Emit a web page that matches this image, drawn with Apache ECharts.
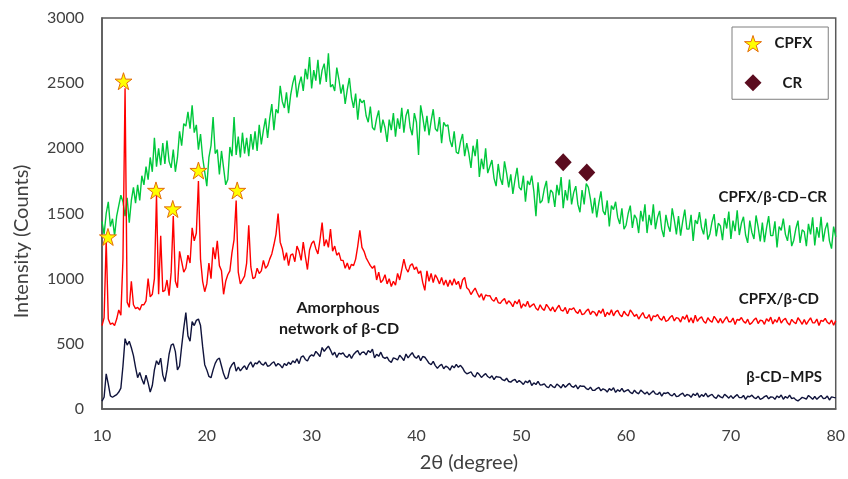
<!DOCTYPE html>
<html>
<head>
<meta charset="utf-8">
<script src="https://cdn.jsdelivr.net/npm/echarts@6/dist/echarts.min.js"></script>
<style>
  html, body { margin: 0; padding: 0; background: #fff; }
  #chart { width: 848px; height: 479px; }
</style>
</head>
<body>
<div id="chart"></div>
<script>
// XRD scan: 10–80° 2θ, 0.2° step (one row = one degree: .0 .2 .4 .6 .8)
const scanStart = 10;
const scanStep = 0.2;

// CPFX/β-CD–CR
const greenCounts = [
  1440, 1340, 1500, 1590, 1400,
  1460, 1330, 1480, 1560, 1640,
  1590, 1480, 1620, 1430, 1600,
  1700, 1580, 1720, 1600, 1790,
  1720, 1860, 1760, 1930, 1820,
  2080, 1860, 2000, 1870, 2040,
  1880, 2060, 1900, 1850, 1990,
  1820, 1930, 2130, 2020, 2190,
  2170, 2280, 2150, 2330, 2120,
  2180, 1990, 2110, 1930, 1820,
  1710, 1930, 2020, 2240, 1960,
  1990, 1800, 1980, 1850, 1720,
  1760, 2010, 1940, 2240, 1950,
  2090, 1930, 2120, 1960, 2080,
  1940, 2110, 1990, 2130, 1980,
  2180, 2030, 2140, 2230, 2080,
  2230, 2340, 2140, 2300, 2270,
  2480, 2360, 2310, 2430, 2270,
  2410, 2500, 2560, 2390, 2490,
  2550, 2440, 2610, 2530, 2700,
  2460, 2600, 2520, 2680, 2490,
  2600, 2650, 2510, 2730, 2470,
  2490, 2440, 2620, 2530, 2420,
  2490, 2340, 2450, 2540, 2390,
  2310, 2420, 2220, 2380, 2350,
  2370, 2250, 2200, 2320, 2160,
  2140, 2230, 2290, 2120, 2220,
  2160, 2050, 2220, 2140, 2270,
  2090, 2230, 2150, 2310, 2120,
  2250, 2300, 2160, 2100, 2270,
  2200, 1950, 2330, 2240, 2130,
  2250, 2100, 2210, 2300, 2150,
  2130, 2240, 2040, 2200, 2170,
  2180, 2060, 2010, 2130, 1970,
  1960, 2050, 2110, 1940, 2040,
  1960, 1850, 2020, 1940, 2070,
  1780, 1920, 1840, 2000, 1810,
  1860, 1910, 1770, 1710, 1880,
  1770, 1720, 1900, 1810, 1700,
  1800, 1650, 1760, 1850, 1700,
  1680, 1790, 1590, 1750, 1720,
  1790, 1670, 1480, 1740, 1580,
  1600, 1690, 1750, 1580, 1680,
  1660, 1550, 1720, 1640, 1780,
  1540, 1680, 1600, 1760, 1570,
  1660, 1710, 1570, 1510, 1680,
  1570, 1730, 1700, 1610, 1500,
  1620, 1470, 1580, 1670, 1520,
  1490, 1600, 1400, 1560, 1530,
  1590, 1470, 1420, 1540, 1380,
  1410, 1500, 1560, 1390, 1490,
  1460, 1350, 1520, 1440, 1570,
  1350, 1490, 1410, 1570, 1380,
  1470, 1520, 1380, 1320, 1490,
  1410, 1360, 1540, 1450, 1340,
  1480, 1330, 1440, 1530, 1380,
  1380, 1490, 1290, 1450, 1420,
  1510, 1390, 1340, 1460, 1300,
  1345, 1435, 1495, 1325, 1425,
  1405, 1295, 1465, 1385, 1515,
  1305, 1445, 1365, 1525, 1335,
  1425, 1475, 1335, 1275, 1445,
  1355, 1305, 1485, 1395, 1285,
  1430, 1280, 1390, 1480, 1330,
  1330, 1440, 1240, 1400, 1370,
  1460, 1340, 1290, 1410, 1250,
  1295, 1385, 1445, 1275, 1375,
  1360, 1250, 1420, 1340, 1470,
  1255, 1395, 1315, 1475, 1285,
  1380, 1430, 1290, 1230, 1400,
  1320
];

// CPFX/β-CD
const redCounts = [
  640, 700, 1290, 690, 650,
  660, 640, 690, 760, 720,
  1150, 2460, 820, 780, 980,
  800, 770, 780, 760, 800,
  800, 830, 1000, 860, 880,
  1000, 1640, 880, 1330, 900,
  910, 990, 870, 1050, 1480,
  980, 930, 1210, 1130, 1050,
  1080, 1180, 1120, 1390, 1290,
  1350, 1750, 1150, 980, 900,
  960, 1120, 1000, 1240, 1150,
  1290, 1100, 1060, 880, 980,
  1030, 1060, 1200, 1300, 1600,
  1050, 960, 990, 1020, 1120,
  1410, 1090, 1000, 1010, 1080,
  1040, 1060, 1140, 1080, 1100,
  1150, 1190, 1260, 1340, 1500,
  1280, 1230, 1140, 1200, 1100,
  1180, 1190, 1130, 1250, 1210,
  1140, 1280, 1170, 1070, 1220,
  1270, 1290, 1230, 1190, 1300,
  1430, 1250, 1300, 1240, 1380,
  1210, 1250, 1180, 1200, 1140,
  1140, 1080, 1120, 1070, 1110,
  1100, 1150, 1250, 1370, 1240,
  1210, 1160, 1130, 1100, 1080,
  1100, 990, 1050, 970, 990,
  1030, 960, 1000, 940, 980,
  950, 1040, 990, 1070, 1150,
  1080, 1050, 1100, 1115, 1070,
  1090, 1040, 1060, 970, 910,
  1060, 980, 1040, 970, 1030,
  1000, 960, 1010, 950, 990,
  940, 990, 950, 1000, 955,
  980, 920, 990, 1010, 930,
  915, 878, 905, 928, 890,
  857, 885, 835, 875, 868,
  870, 840, 827, 857, 817,
  810, 833, 847, 805, 830,
  813, 785, 828, 807, 840,
  773, 807, 787, 827, 780,
  795, 807, 773, 757, 800,
  770, 757, 803, 780, 753,
  783, 746, 773, 796, 758,
  752, 780, 730, 770, 763,
  777, 747, 734, 764, 724,
  730, 753, 767, 725, 750,
  741, 713, 756, 735, 768,
  708, 742, 722, 762, 715,
  745, 757, 723, 707, 750,
  727, 714, 760, 737, 710,
  727, 690, 717, 740, 702,
  697, 725, 675, 715, 708,
  725, 695, 682, 712, 672,
  681, 704, 718, 676, 701,
  695, 667, 710, 689, 722,
  666, 700, 660, 720, 673,
  695, 707, 673, 657, 700,
  678, 665, 711, 688, 661,
  695, 658, 685, 708, 670,
  670, 698, 648, 688, 681,
  702, 672, 659, 689, 649,
  661, 684, 698, 656, 681,
  678, 650, 693, 672, 705,
  652, 686, 666, 706, 659,
  683, 695, 661, 645, 688,
  667, 654, 700, 677, 650,
  686, 649, 676, 699, 661,
  662, 690, 640, 680, 673,
  695, 665, 652, 682, 642,
  678
];

// β-CD–MPS
const navyCounts = [
  60, 90, 270, 190, 100,
  90, 100, 110, 130, 160,
  330, 540, 490, 520, 470,
  410, 320, 240, 280, 230,
  190, 260, 200, 130, 180,
  300, 370, 340, 390, 260,
  210, 300, 420, 490, 500,
  440, 300, 330, 480, 620,
  740, 560, 520, 670, 640,
  680, 690, 640, 480, 340,
  300, 250, 240, 300, 350,
  380, 390, 330, 270, 230,
  240, 310, 340, 360, 290,
  322, 292, 314, 332, 302,
  339, 361, 321, 353, 347,
  370, 346, 336, 360, 328,
  333, 351, 363, 329, 349,
  337, 315, 349, 333, 359,
  342, 370, 354, 386, 348,
  398, 408, 380, 368, 402,
  416, 406, 442, 424, 402,
  472, 442, 464, 482, 452,
  414, 436, 396, 428, 422,
  430, 406, 396, 420, 388,
  418, 436, 448, 414, 434,
  437, 415, 449, 433, 459,
  392, 420, 404, 436, 398,
  388, 398, 370, 358, 392,
  386, 376, 412, 394, 372,
  422, 392, 414, 432, 402,
  389, 411, 371, 403, 397,
  375, 351, 341, 365, 333,
  313, 331, 343, 309, 329,
  320, 298, 332, 316, 342,
  320, 335, 315, 285, 270,
  276, 286, 258, 246, 280,
  264, 242, 258, 272, 249,
  238, 255, 225, 249, 245,
  243, 225, 217, 236, 211,
  206, 220, 228, 203, 218,
  205, 188, 214, 201, 221,
  180, 201, 188, 212, 184,
  186, 193, 172, 163, 189,
  172, 164, 192, 178, 162,
  189, 167, 183, 197, 174,
  167, 184, 154, 178, 174,
  175, 157, 149, 168, 143,
  143, 157, 165, 140, 155,
  147, 130, 156, 143, 163,
  127, 148, 135, 159, 131,
  141, 148, 127, 118, 144,
  125, 117, 145, 131, 115,
  131, 109, 125, 139, 116,
  112, 129, 99, 123, 119,
  127, 109, 101, 120, 95,
  99, 113, 121, 96, 111,
  107, 90, 116, 103, 123,
  89, 110, 97, 121, 93,
  105, 112, 91, 82, 108,
  93, 85, 113, 99, 83,
  103, 81, 97, 111, 88,
  87, 104, 74, 98, 94,
  106, 88, 80, 99, 74,
  81, 95, 103, 78, 93,
  91, 74, 100, 87, 107,
  75, 96, 83, 107, 79,
  86, 70, 62, 75, 89,
  84, 76, 104, 90, 74,
  96, 74, 90, 104, 81,
  82, 99, 69, 93, 89,
  86
];

// Reflection markers [2θ, counts]
const cpfxMarks = [[10.57, 1320], [12.05, 2515], [15.15, 1677], [16.75, 1535], [19.2, 1830], [22.9, 1677]];
const crMarks = [[54.0, 1893], [56.25, 1815]];

const sampleNames = ['CPFX/β-CD–CR', 'CPFX/β-CD', 'β-CD–MPS'];

function toPairs(counts) {
  return counts.map((c, i) => [+(scanStart + i * scanStep).toFixed(1), c]);
}

const starPath = 'path://M50,2 L61,36 L97,36 L68,57 L79,92 L50,71 L21,92 L32,57 L3,36 L39,36 Z';
const textColor = '#404040';
const font = 'Lato, "Open Sans", sans-serif';

const chart = echarts.init(document.getElementById('chart'), null, { renderer: 'canvas' });

const lineSeries = (name, counts, color, z) => ({
  name, type: 'line', data: toPairs(counts), showSymbol: false, symbol: 'none',
  lineStyle: { color, width: 1.4 }, itemStyle: { color }, z, silent: true,
  emphasis: { disabled: true }
});

chart.setOption({
  animation: false,
  backgroundColor: '#ffffff',
  textStyle: { fontFamily: font },
  grid: {
    left: 102, right: 11, top: 18, bottom: 70,
    show: true, borderColor: '#595959', borderWidth: 1.5, backgroundColor: 'transparent'
  },
  legend: {
    data: [
      { name: 'CPFX' },
      { name: 'CR', textStyle: { padding: [0, 0, 0, 16] } }
    ],
    orient: 'vertical',
    left: 732, top: 27,
    padding: [8, 16, 8, 12],
    itemWidth: 17, itemHeight: 17, itemGap: 22,
    itemStyle: { borderWidth: 1 },
    borderColor: '#7f7f7f', borderWidth: 1,
    backgroundColor: '#ffffff',
    textStyle: { fontFamily: font, fontSize: 15, fontWeight: 'bold', color: '#1a1a1a', padding: [0, 0, 0, 8] }
  },
  xAxis: {
    type: 'value', min: 10, max: 80, interval: 10,
    name: '2θ (degree)', nameLocation: 'middle', nameGap: 44,
    nameTextStyle: { fontFamily: font, fontSize: 20, color: textColor },
    axisLine: { show: true, lineStyle: { color: '#595959', width: 1.5 } },
    axisTick: { show: false },
    splitLine: { show: false },
    axisLabel: { fontFamily: font, fontSize: 16, color: textColor, margin: 19 }
  },
  yAxis: {
    type: 'value', min: 0, max: 3000, interval: 500,
    name: 'Intensity (Counts)', nameLocation: 'middle', nameGap: 70, nameRotate: 90,
    nameTextStyle: { fontFamily: font, fontSize: 20, color: textColor, padding: [0, 56, 0, 0] },
    axisLine: { show: true, lineStyle: { color: '#595959', width: 1.5 } },
    axisTick: { show: false },
    splitLine: { show: false },
    axisLabel: { fontFamily: font, fontSize: 16, color: textColor, margin: 18, formatter: v => String(v) }
  },
  series: [
    lineSeries(sampleNames[2], navyCounts, '#10143c', 2),
    lineSeries(sampleNames[0], greenCounts, '#00c83c', 3),
    lineSeries(sampleNames[1], redCounts, '#ff0000', 4),
    {
      name: 'CPFX', type: 'scatter', data: cpfxMarks, symbol: starPath, symbolSize: 17,
      itemStyle: { color: '#ffff00', borderColor: '#e46c0a', borderWidth: 1, opacity: 1 },
      z: 6, silent: true
    },
    {
      name: 'CR', type: 'scatter', data: crMarks, symbol: 'diamond', symbolSize: [17, 18],
      itemStyle: { color: '#5b0c1f', opacity: 1 },
      z: 6, silent: true
    }
  ],
  graphic: [
    { type: 'text', x: 827, y: 197, style: { text: sampleNames[0], align: 'right', verticalAlign: 'middle', font: 'bold 15px ' + font, fill: '#1a1a1a' } },
    { type: 'text', x: 819, y: 299, style: { text: sampleNames[1], align: 'right', verticalAlign: 'middle', font: 'bold 15px ' + font, fill: '#1a1a1a' } },
    { type: 'text', x: 822, y: 377, style: { text: sampleNames[2], align: 'right', verticalAlign: 'middle', font: 'bold 15px ' + font, fill: '#1a1a1a' } },
    { type: 'text', x: 338, y: 308, style: { text: 'Amorphous', align: 'center', verticalAlign: 'middle', font: 'bold 16px ' + font, fill: '#1a1a1a' } },
    { type: 'text', x: 339, y: 329, style: { text: 'network of β-CD', align: 'center', verticalAlign: 'middle', font: 'bold 16px ' + font, fill: '#1a1a1a' } }
  ]
});
</script>
</body>
</html>
